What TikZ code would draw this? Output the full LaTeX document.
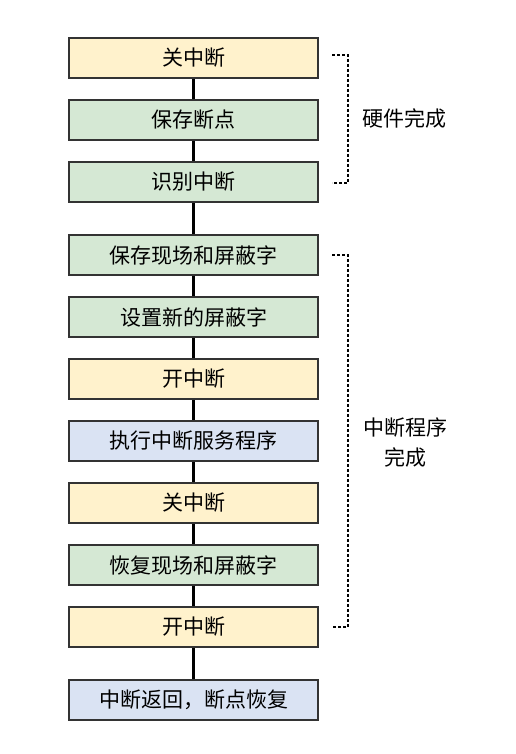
\documentclass[tikz,border=0pt]{standalone}
\usepackage{fontspec}
\setmainfont{Noto Sans CJK SC}
\definecolor{cy}{HTML}{FFF2CC}
\definecolor{cg}{HTML}{D5E8D4}
\definecolor{cb}{HTML}{DAE3F3}
\definecolor{bd}{HTML}{333333}
\begin{document}
\begin{tikzpicture}[x=1pt,y=-1pt,
  box/.style={draw=bd,line width=1.8pt,minimum width=249pt,minimum height=40pt,inner sep=0pt,font=\fontsize{21}{24}\selectfont},
  yb/.style={box,fill=cy},
  gb/.style={box,fill=cg},
  bb/.style={box,fill=cb},
  link/.style={line width=2.2pt,black},
  brk/.style={line width=2pt,black,dash pattern=on 3pt off 2pt},
  lbl/.style={font=\fontsize{21}{30}\selectfont,align=center}]
\useasboundingbox (0,0) rectangle (516,754);
\node[yb] (n1) at (193.5,58) {关中断};
\node[gb] (n2) at (193.5,120) {保存断点};
\node[gb] (n3) at (193.5,182) {识别中断};
\node[gb] (n4) at (193.5,255) {保存现场和屏蔽字};
\node[gb] (n5) at (193.5,317) {设置新的屏蔽字};
\node[yb] (n6) at (193.5,379) {开中断};
\node[bb] (n7) at (193.5,441) {执行中断服务程序};
\node[yb] (n8) at (193.5,503) {关中断};
\node[gb] (n9) at (193.5,565) {恢复现场和屏蔽字};
\node[yb] (n10) at (193.5,627) {开中断};
\node[bb] (n11) at (193.5,700) {中断返回，断点恢复};
\foreach \a/\b in {n1/n2,n2/n3,n3/n4,n4/n5,n5/n6,n6/n7,n7/n8,n8/n9,n9/n10,n10/n11}
  \draw[link] (\a) -- (\b);
\coordinate (a1) at (332,55);
\coordinate (a2) at (348,55);
\coordinate (a3) at (348,183);
\coordinate (a4) at (332,183);
\draw[brk] (a1) -- (a2) -- (a3) -- (a4);
\coordinate (b1) at (332,255);
\coordinate (b2) at (348,255);
\coordinate (b3) at (348,627);
\coordinate (b4) at (332,627);
\draw[brk] (b1) -- (b2) -- (b3) -- (b4);
\node[lbl] (l1) at (404,118) {硬件完成};
\node[lbl] (l2) at (405,443) {中断程序\\完成};
\end{tikzpicture}
\end{document}
